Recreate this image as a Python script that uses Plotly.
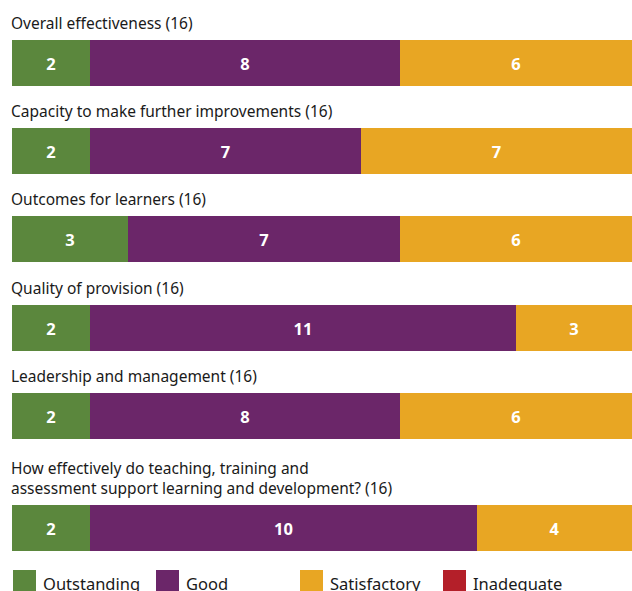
import plotly.graph_objects as go

# ---- data ----
questions = [
    "Overall effectiveness (16)",
    "Capacity to make further improvements (16)",
    "Outcomes for learners (16)",
    "Quality of provision (16)",
    "Leadership and management (16)",
    "How effectively do teaching, training and<br>assessment support learning and development? (16)",
]
grades = ["Outstanding", "Good", "Satisfactory", "Inadequate"]
outstanding = [2, 2, 3, 2, 2, 2]
good = [8, 7, 7, 11, 8, 10]
satisfactory = [6, 7, 6, 3, 6, 4]
inadequate = [0, 0, 0, 0, 0, 0]
total = 16

# ---- style ----
colors = ["#5b873d", "#6b2669", "#e8a623", "#b41f29"]
series = [outstanding, good, satisfactory, inadequate]
font_family = "Noto Sans, Open Sans, sans-serif"

W, H = 632, 591
left_px = 12
bar_centers = [63, 151, 239, 328, 416, 528]  # layout positions (pixels from top)
bar_h = 46

fig = go.Figure()
for name, vals, col in zip(grades, series, colors):
    fig.add_trace(go.Bar(
        x=vals, y=bar_centers, orientation="h", name=name,
        marker=dict(color=col, line=dict(width=0)),
        width=bar_h,
        text=[str(v) if v else "" for v in vals],
        textposition="inside", insidetextanchor="middle",
        textfont=dict(color="white", size=16.5, family=font_family),
        texttemplate="<b>%{text}</b>",
        showlegend=False, hoverinfo="skip",
    ))

xmin = -left_px * total / (W - left_px)
annotations = []
for q, c in zip(questions, bar_centers):
    annotations.append(dict(
        x=xmin, y=c - bar_h / 2 - 4, xref="x", yref="y",
        text=q, showarrow=False, xanchor="left", yanchor="bottom", align="left",
        font=dict(size=15.5, color="#1a1a1a", family=font_family), xshift=9,
    ))

# custom legend
unit = total / (W - left_px)  # data units per pixel
leg_x = [13, 156, 300, 443]
shapes = []
for g, col, lx in zip(grades, colors, leg_x):
    x0 = xmin + lx * unit
    shapes.append(dict(type="rect", xref="x", yref="y",
                       x0=x0, x1=x0 + 23 * unit, y0=570, y1=594,
                       fillcolor=col, line=dict(width=0)))
    annotations.append(dict(
        x=x0 + 28 * unit, y=583, xref="x", yref="y", text=g, showarrow=False,
        xanchor="left", yanchor="middle",
        font=dict(size=16.5, color="#1a1a1a", family=font_family),
    ))

fig.update_layout(
    barmode="stack",
    width=W, height=H,
    margin=dict(l=0, r=0, t=0, b=0),
    paper_bgcolor="white", plot_bgcolor="white",
    xaxis=dict(range=[xmin, total], visible=False, fixedrange=True),
    yaxis=dict(range=[H, 0], visible=False, fixedrange=True),
    annotations=annotations, shapes=shapes,
    bargap=0,
)

fig.write_html(
    "out.html",
    config={"displayModeBar": False},
    post_script="document.body.style.margin='0';document.body.style.overflow='hidden';",
)
